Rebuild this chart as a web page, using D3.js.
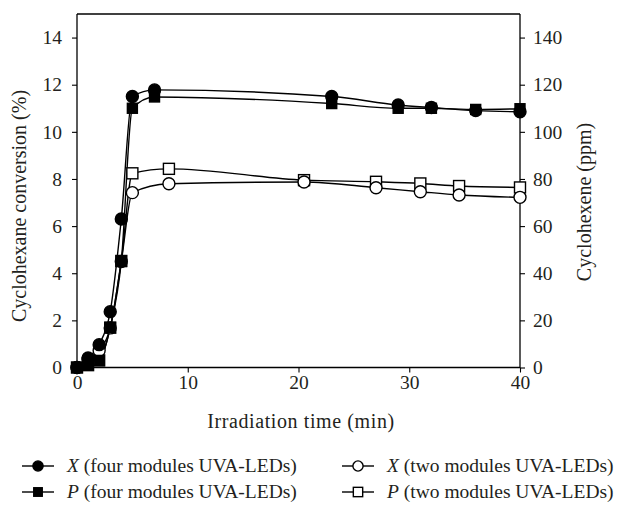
<!DOCTYPE html>
<html>
<head>
<meta charset="utf-8">
<script src="https://cdn.jsdelivr.net/npm/d3@7"></script>
<style>
  body { margin: 0; background: #fff; }
  text { font-family: "Liberation Serif", "DejaVu Serif", serif; fill: #231f20; }
</style>
</head>
<body>
<svg id="chart" width="632" height="505"></svg>
<script>
// irradiation time (min)
const timeFour = [0, 1, 2, 3, 4, 5, 7, 23, 29, 32, 36, 40];
const timeTwo = [0, 1, 2, 3, 4, 5, 8.3, 20.5, 27, 31, 34.5, 40];

// cyclohexane conversion X (%) and cyclohexene P (ppm / 10, plotted on the same scale)
const xFour = [0, 0.4, 0.97, 2.37, 6.3, 11.5, 11.78, 11.5, 11.14, 11.03, 10.9, 10.85];
const pFour = [0, 0.1, 0.3, 1.7, 4.5, 11.0, 11.48, 11.2, 11.0, 11.0, 10.95, 10.98];
const xTwo = [0, 0.35, 0.72, 1.68, 4.5, 7.42, 7.8, 7.87, 7.63, 7.46, 7.32, 7.22];
const pTwo = [0, 0.1, 0.3, 1.69, 4.52, 8.24, 8.43, 7.95, 7.88, 7.81, 7.7, 7.64];

const leftTicks = [0, 2, 4, 6, 8, 10, 12, 14];
const rightTicks = [0, 20, 40, 60, 80, 100, 120, 140];
const timeTicks = [0, 10, 20, 30, 40];

const svg = d3.select("#chart");
const margin = {left: 77, right: 520, top: 14, bottom: 367.5};

const xScale = d3.scaleLinear().domain([0, 40]).range([margin.left, margin.right]);
const yScale = d3.scaleLinear().domain([0, 15]).range([margin.bottom, margin.top]);
const yRight = d3.scaleLinear().domain([0, 150]).range([margin.bottom, margin.top]);

const TICK_FONT = 19.5;
const TITLE_FONT = 20;
const LEGEND_FONT = 19.5;

//frame top line
svg.append("line")
    .attr("x1", margin.left).attr("x2", margin.right)
    .attr("y1", margin.top).attr("y2", margin.top)
    .attr("stroke", "#000").attr("stroke-width", 1.3);

//axes
const gx = svg.append("g").attr("transform", `translate(0,${margin.bottom})`)
    .call(d3.axisBottom(xScale).tickValues(timeTicks).tickSize(5).tickPadding(3));
const gl = svg.append("g").attr("transform", `translate(${margin.left},0)`)
    .call(d3.axisLeft(yScale).tickValues(leftTicks).tickSize(5).tickPadding(10));
const gr = svg.append("g").attr("transform", `translate(${margin.right},0)`)
    .call(d3.axisRight(yRight).tickValues(rightTicks).tickSize(5).tickPadding(8));

[gx, gl, gr].forEach(g => {
    g.select(".domain").attr("stroke", "#000").attr("stroke-width", 1.3);
    g.selectAll(".tick line").attr("stroke", "#000").attr("stroke-width", 1.1);
    g.selectAll(".tick text")
        .style("font-family", '"Liberation Serif", serif')
        .style("font-size", TICK_FONT + "px")
        .attr("fill", "#231f20");
});
gx.select(".domain").attr("d", `M${margin.left},0H${margin.right}`);
gl.select(".domain").attr("d", `M0,${margin.bottom}V${margin.top}`);
gr.select(".domain").attr("d", `M0,${margin.bottom}V${margin.top}`);

//axis titles
svg.append("text")
    .attr("x", 301).attr("y", 428)
    .attr("text-anchor", "middle")
    .style("font-size", TITLE_FONT + "px")
    .style("letter-spacing", "0.6px")
    .text("Irradiation time (min)");
svg.append("text")
    .attr("transform", "translate(26,206) rotate(-90)")
    .attr("text-anchor", "middle")
    .style("font-size", TITLE_FONT + "px")
    .text("Cyclohexane conversion (%)");
svg.append("text")
    .attr("transform", "translate(591,202) rotate(-90)")
    .attr("text-anchor", "middle")
    .style("font-size", TITLE_FONT + "px")
    .text("Cyclohexene (ppm)");

//series
const series = [
    {times: timeTwo, values: pTwo, shape: "square", fill: "#fff"},
    {times: timeTwo, values: xTwo, shape: "circle", fill: "#fff"},
    {times: timeFour, values: pFour, shape: "square", fill: "#000"},
    {times: timeFour, values: xFour, shape: "circle", fill: "#000"}
];

const line = d3.line()
    .x(d => xScale(d[0]))
    .y(d => yScale(d[1]))
    .curve(d3.curveMonotoneX);

const plot = svg.append("g");
series.forEach(s => {
    const pts = s.times.map((t, i) => [t, s.values[i]]);
    plot.append("path")
        .datum(pts)
        .attr("d", line)
        .attr("fill", "none")
        .attr("stroke", "#000")
        .attr("stroke-width", 1.4);
});

function drawMarker(g, shape, fill, cx, cy, scale = 1) {
    if (shape === "circle") {
        g.append("circle").attr("cx", cx).attr("cy", cy).attr("r", 6 * scale)
            .attr("fill", fill).attr("stroke", "#000").attr("stroke-width", 1.4);
    } else {
        const s = (fill === "#000" ? 10 : 11) * scale;
        g.append("rect").attr("x", cx - s / 2).attr("y", cy - s / 2)
            .attr("width", s).attr("height", s)
            .attr("fill", fill).attr("stroke", "#000").attr("stroke-width", 1.4);
    }
}

series.forEach(s => {
    s.times.forEach((t, i) => drawMarker(plot, s.shape, s.fill, xScale(t), yScale(s.values[i])));
});

//legend
const legendItems = [
    {label: "X", rest: " (four modules UVA-LEDs)", shape: "circle", fill: "#000", col: 0, row: 0},
    {label: "X", rest: " (two modules UVA-LEDs)", shape: "circle", fill: "#fff", col: 1, row: 0},
    {label: "P", rest: " (four modules UVA-LEDs)", shape: "square", fill: "#000", col: 0, row: 1},
    {label: "P", rest: " (two modules UVA-LEDs)", shape: "square", fill: "#fff", col: 1, row: 1}
];
const legend = svg.append("g");
legendItems.forEach(d => {
    const x0 = d.col === 0 ? 22 : 342;
    const y0 = d.row === 0 ? 466 : 492;
    legend.append("line")
        .attr("x1", x0).attr("x2", x0 + 32)
        .attr("y1", y0).attr("y2", y0)
        .attr("stroke", "#000").attr("stroke-width", 1.4);
    drawMarker(legend, d.shape, d.fill, x0 + 16, y0, 0.85);
    const t = legend.append("text")
        .attr("x", x0 + 45).attr("y", y0 + 6)
        .style("font-size", LEGEND_FONT + "px");
    t.append("tspan").style("font-style", "italic").text(d.label);
    t.append("tspan").text(d.rest);
});
</script>
</body>
</html>
